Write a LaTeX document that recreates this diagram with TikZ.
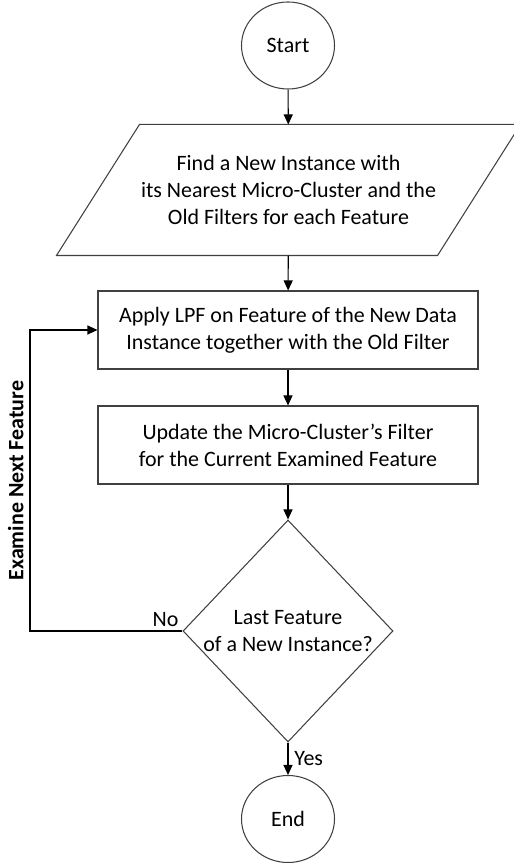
\documentclass[tikz,border=0pt]{standalone}
\usepackage{fontspec}
\setmainfont{Carlito}
\usetikzlibrary{shapes.geometric,arrows.meta}
\tikzset{>={Triangle[length=2mm,width=1.8mm]}}
\tikzset{%
    terminal/.style={draw=black!75, ellipse, minimum width=1.86cm, minimum height=1.74cm},
    inout/.style={rectangle, minimum width=7.6cm, minimum height=2.6cm, align=center},
    process/.style={draw=black!75, rectangle, minimum width=7.6cm, minimum height=1.56cm, align=center},
    decision/.style={draw=black!75, diamond, minimum width=4.2cm, minimum height=4.44cm,
        align=center, inner xsep=-6pt, inner ysep=0pt},
    flow/.style={->, line width=0.6pt}
}

\begin{document}
\begin{tikzpicture}[font=\fontsize{12.5}{15.5}\selectfont, line width=0.6pt]
\useasboundingbox (0,0) rectangle (10.28,17.26);

\node[terminal] (start) at (5.76,16.35) {Start};
\node[inout] (find) at (5.77,13.46) {Find a New Instance with\\its Nearest Micro-Cluster and the\\Old Filters for each Feature};
\draw[draw=black!75] ([xshift=-0.83cm]find.south west) -- ([xshift=-0.83cm]find.south east)
    -- ([xshift=0.83cm]find.north east) -- ([xshift=0.83cm]find.north west) -- cycle;
\node[process] (apply) at (5.76,10.66) {Apply LPF on Feature of the New Data\\Instance together with the Old Filter};
\node[process] (update) at (5.76,8.36) {Update the Micro-Cluster's Filter\\for the Current Examined Feature};
\node[decision] (test) at (5.76,4.64) {Last Feature\\of a New Instance?};
\node[terminal] (stop) at (5.76,0.88) {End};
\coordinate (loop) at (0.6,4.64);

\draw[flow] (start) -- (find);
\draw[flow] (find) -- (apply);
\draw[flow] (apply) -- (update);
\draw[flow] (update) -- (test);
\draw[flow] (test) -- node[right] {Yes} (stop);
\draw[flow] (test.west) -- node[pos=0, anchor=south east, inner sep=2pt] {No} (loop)
    |- node[pos=0.25, sloped, above] {\bfseries Examine Next Feature} (apply.west);
\end{tikzpicture}
\end{document}
